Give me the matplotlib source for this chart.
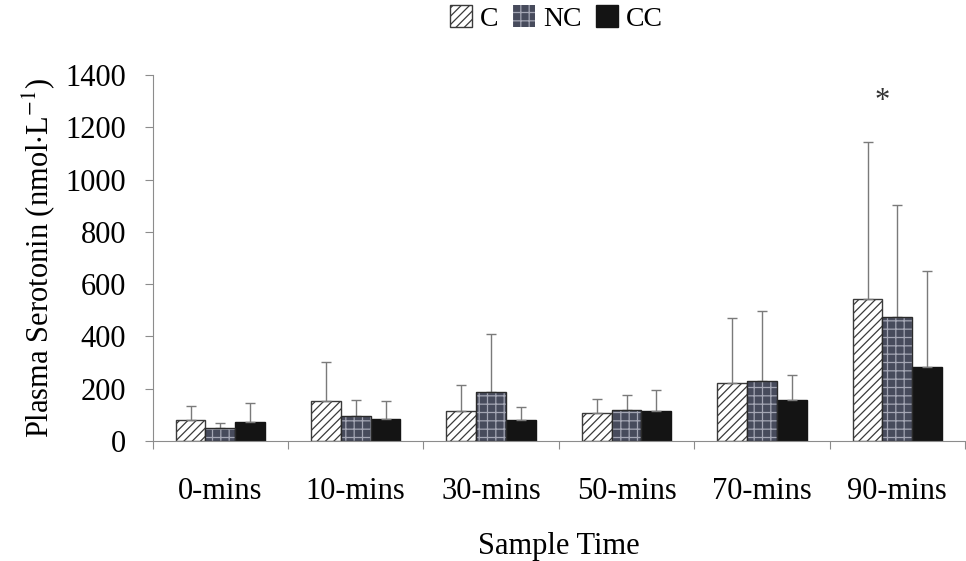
import matplotlib.pyplot as plt
import numpy as np

plt.rcParams['font.family'] = ['Liberation Serif', 'DejaVu Serif']
plt.rcParams['mathtext.fontset'] = 'stix'
plt.rcParams['font.size'] = 22
plt.rcParams['hatch.linewidth'] = 0.9

# data (mean and upper SD)
labels = ['0-mins', '10-mins', '30-mins', '50-mins', '70-mins', '90-mins']
c_mean = [80, 153, 115, 107, 222, 543]
c_sd = [54, 149, 99, 54, 248, 601]
nc_mean = [50, 96, 187, 119, 230, 475]
nc_sd = [19, 61, 222, 57, 267, 428]
cc_mean = [73, 84, 80, 115, 157, 283]
cc_sd = [72, 69, 50, 80, 95, 367]

clrAxis = '#8c8c8c'
clrErr = '#7a7a7a'

fig = plt.figure(figsize=(9.66, 5.61), dpi=100)
ax = fig.add_axes([0.158, 0.214, 0.841, 0.652])

x = np.arange(len(labels))
w = 0.22
zeros = np.zeros(len(labels))
ekw = dict(ecolor=clrErr, elinewidth=1, capsize=3.5, capthick=1)

b1 = ax.bar(x - w, c_mean, w, color='white', edgecolor='#3a3a3a', hatch='////',
            linewidth=1, label='C', yerr=[zeros, c_sd], error_kw=ekw, zorder=2)
b2 = ax.bar(x, nc_mean, w, color='#474b5c', edgecolor='#a4a6b4', hatch='++',
            linewidth=0, yerr=[zeros, nc_sd], error_kw=ekw, zorder=2)
# outline for the checked bars
ax.bar(x, nc_mean, w, color='none', edgecolor='#2a2a2a', linewidth=1, zorder=3)
b3 = ax.bar(x + w, cc_mean, w, color='#141414', edgecolor='#141414',
            linewidth=1, label='CC', yerr=[zeros, cc_sd], error_kw=ekw, zorder=2)

# significance marker
ax.text(x[5] - w / 2, c_mean[5] + c_sd[5] + 155, '*', ha='center', va='center',
        fontsize=22, color='#333333')

ax.set_ylim(0, 1400)
ax.set_yticks(np.arange(0, 1401, 200))
ax.set_xlim(-0.5, 5.5)
ax.set_xticks(np.arange(-0.5, 5.6, 1.0))
ax.set_xticklabels([])
ax.set_xticks(x, minor=True)
ax.set_xticklabels(labels, minor=True)
ax.tick_params(axis='x', which='major', direction='out', length=6, color=clrAxis)
ax.tick_params(axis='x', which='minor', length=0, pad=26)
ax.tick_params(axis='y', direction='out', length=6, color=clrAxis, pad=13)

for s in ['top', 'right']:
    ax.spines[s].set_visible(False)
for s in ['left', 'bottom']:
    ax.spines[s].set_color(clrAxis)

ax.set_ylabel('Plasma Serotonin (nmol$\\cdot$L$^{-1}$)')
ax.yaxis.set_label_coords(-0.118, 0.5)
ax.set_xlabel('Sample Time')
ax.xaxis.set_label_coords(0.5, -0.25)

handles = [b1, b2, b3]
leg = fig.legend(handles, ['C', 'NC', 'CC'], loc='upper center',
                 bbox_to_anchor=(0.576, 1.035), ncol=3, frameon=False,
                 fontsize=20, handlelength=0.8, handleheight=0.8,
                 handletextpad=0.3, columnspacing=0.5)

fig.savefig('out.png', dpi=100)
